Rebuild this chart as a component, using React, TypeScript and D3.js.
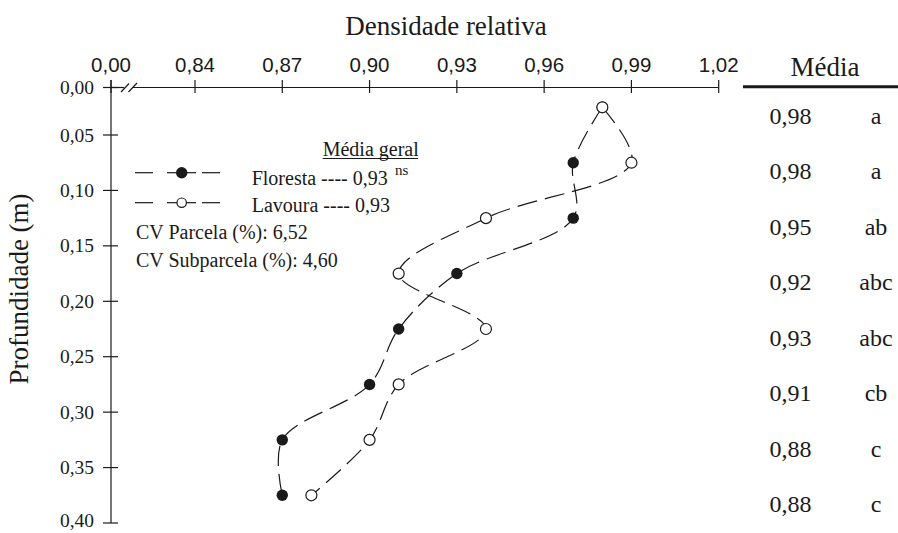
import React from "react";
import * as d3 from "d3";

// Depth (m) of each sampled layer midpoint
const depths = [0.025, 0.075, 0.125, 0.175, 0.225, 0.275, 0.325, 0.375];
// Relative density per layer
const floresta = [0.98, 0.97, 0.97, 0.93, 0.91, 0.9, 0.87, 0.87];
const lavoura = [0.98, 0.99, 0.94, 0.91, 0.94, 0.91, 0.9, 0.88];
// Layer means and significance letters
const mediaValues = [0.98, 0.98, 0.95, 0.92, 0.93, 0.91, 0.88, 0.88];
const mediaLetters = ["a", "a", "ab", "abc", "abc", "cb", "c", "c"];
// Axis ticks
const xTicks = [0.84, 0.87, 0.9, 0.93, 0.96, 0.99, 1.02];
const yTicks = [0.05, 0.1, 0.15, 0.2, 0.25, 0.3, 0.35, 0.4];

const W = 898;
const H = 533;
const X_ORIGIN = 111; // broken-axis origin (0,00)
const AXIS_Y = 87.5;

const SERIF = "'Liberation Serif', 'Times New Roman', serif";
const SANS = "'Liberation Sans', Arial, sans-serif";
const INK = "#1a1a1a";

const fmt = (v: number) => d3.format(".2f")(v).replace(".", ",");

export default function App() {
  const x = d3.scaleLinear().domain([0.84, 1.02]).range([195, 718.7]);
  const y = d3.scaleLinear().domain([0.05, 0.4]).range([135, 523]);

  const line = d3
    .line<[number, number]>()
    .x((d) => x(d[0]))
    .y((d) => y(d[1]))
    .curve(d3.curveCatmullRom.alpha(0.5));

  const fPts: [number, number][] = floresta.map((v, i) => [v, depths[i]]);
  const lPts: [number, number][] = lavoura.map((v, i) => [v, depths[i]]);

  const xEnd = x(1.02);
  const yEnd = y(0.4);

  return (
    <svg
      width={W}
      height={H}
      style={{ position: "absolute", left: 0, top: 0, background: "#fff" }}
    >
      {/* X axis title */}
      <text
        x={446}
        y={35}
        textAnchor="middle"
        fontFamily={SERIF}
        fontSize={27}
        fill={INK}
      >
        Densidade relativa
      </text>

      {/* Y axis title */}
      <text
        transform={`translate(28, 289) rotate(-90)`}
        textAnchor="middle"
        fontFamily={SERIF}
        fontSize={27}
        fill={INK}
      >
        Profundidade (m)
      </text>

      {/* X axis with break */}
      <g stroke={INK} strokeWidth={1.2} fill="none">
        <line x1={X_ORIGIN} y1={AXIS_Y} x2={124} y2={AXIS_Y} />
        <line x1={133} y1={AXIS_Y} x2={xEnd} y2={AXIS_Y} />
        <line x1={121} y1={92} x2={129} y2={83.5} />
        <line x1={128.5} y1={92} x2={137} y2={83} />
        <line x1={X_ORIGIN} y1={AXIS_Y - 7.5} x2={X_ORIGIN} y2={AXIS_Y + 5.5} />
        {xTicks.map((t) => (
          <line key={t} x1={x(t)} y1={AXIS_Y - 7.5} x2={x(t)} y2={AXIS_Y + 5.5} />
        ))}
      </g>
      <g fontFamily={SANS} fontSize={20.5} fill={INK} textAnchor="middle">
        <text x={X_ORIGIN} y={71.5}>
          0,00
        </text>
        {xTicks.map((t) => (
          <text key={t} x={x(t)} y={71.5}>
            {fmt(t)}
          </text>
        ))}
      </g>

      {/* Y axis */}
      <g stroke={INK} strokeWidth={1.2} fill="none">
        <line x1={X_ORIGIN} y1={AXIS_Y - 7.5} x2={X_ORIGIN} y2={yEnd} />
        <line x1={X_ORIGIN - 8} y1={AXIS_Y} x2={X_ORIGIN + 7} y2={AXIS_Y} />
        {yTicks.map((t) => (
          <line key={t} x1={X_ORIGIN - 8} y1={y(t)} x2={X_ORIGIN + 7} y2={y(t)} />
        ))}
      </g>
      <g fontFamily={SERIF} fontSize={19.5} fill={INK} textAnchor="end">
        <text x={94} y={AXIS_Y} dy="0.34em">
          0,00
        </text>
        {yTicks.map((t) => (
          <text key={t} x={94} y={Math.min(y(t), 520)} dy="0.34em">
            {fmt(t)}
          </text>
        ))}
      </g>

      {/* Series lines */}
      <g fill="none" stroke={INK} strokeWidth={1.2} strokeDasharray="20 8">
        <path d={line(fPts) ?? ""} />
        <path d={line(lPts) ?? ""} />
      </g>
      {/* Markers: Floresta filled, Lavoura open */}
      <g>
        {fPts.map((p, i) => (
          <circle key={`f${i}`} cx={x(p[0])} cy={y(p[1])} r={5.7} fill={INK} />
        ))}
        {lPts.map((p, i) => (
          <circle
            key={`l${i}`}
            cx={x(p[0])}
            cy={y(p[1])}
            r={5.5}
            fill="#fff"
            stroke={INK}
            strokeWidth={1.2}
          />
        ))}
      </g>

      {/* Legend */}
      <g fontFamily={SERIF} fontSize={20} fill={INK}>
        <text x={322.7} y={156}>
          Média geral
        </text>
        <line x1={322.7} y1={158.5} x2={418} y2={158.5} stroke={INK} strokeWidth={1.1} />
        <g stroke={INK} strokeWidth={1.2}>
          <line x1={135} y1={172.7} x2={153} y2={172.7} />
          <line x1={167} y1={172.7} x2={196} y2={172.7} />
          <line x1={202} y1={172.7} x2={220} y2={172.7} />
          <line x1={135} y1={202.7} x2={153} y2={202.7} />
          <line x1={167} y1={202.7} x2={196} y2={202.7} />
          <line x1={202} y1={202.7} x2={220} y2={202.7} />
        </g>
        <circle cx={181.7} cy={172.7} r={5.7} fill={INK} />
        <circle cx={181.7} cy={202.7} r={4.7} fill="#fff" stroke={INK} strokeWidth={1.2} />
        <text x={251.7} y={185}>
          Floresta ---- 0,93
        </text>
        <text x={395} y={175} fontSize={15}>
          ns
        </text>
        <text x={251.7} y={211.7}>
          Lavoura ---- 0,93
        </text>
        <text x={136} y={239.3}>
          CV Parcela (%): 6,52
        </text>
        <text x={136} y={267.3}>
          CV Subparcela (%): 4,60
        </text>
      </g>

      {/* Means column */}
      <text
        x={825}
        y={76}
        textAnchor="middle"
        fontFamily={SERIF}
        fontSize={27}
        fill={INK}
      >
        Média
      </text>
      <line x1={743} y1={86.7} x2={898} y2={86.7} stroke={INK} strokeWidth={3} />
      <g fontFamily={SERIF} fontSize={24} fill={INK} textAnchor="middle">
        {mediaValues.map((v, i) => (
          <text key={`m${i}`} x={790.5} y={y(depths[i]) + 8.6} dy="0.34em">
            {fmt(v)}
          </text>
        ))}
        {mediaLetters.map((s, i) => (
          <text key={`s${i}`} x={876} y={y(depths[i]) + 8.6} dy="0.34em">
            {s}
          </text>
        ))}
      </g>
    </svg>
  );
}
